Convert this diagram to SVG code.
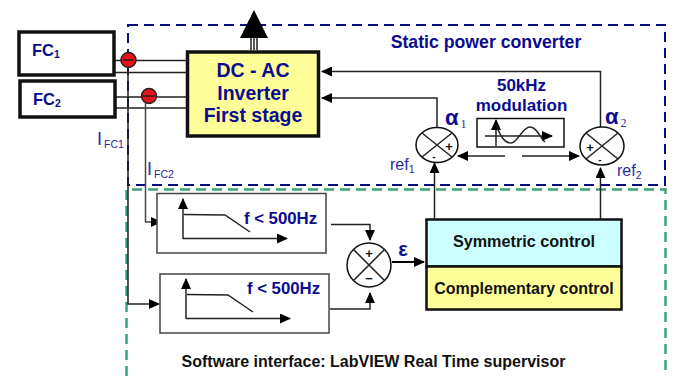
<svg xmlns="http://www.w3.org/2000/svg" width="674" height="376" viewBox="0 0 674 376">
<style>
text{font-family:"Liberation Sans",Arial,sans-serif;font-weight:bold;fill:#0b0b8f}
.k{fill:#111}
.n{font-weight:normal;fill:#2a2aa0}
.l{fill:none;stroke:#222;stroke-width:1.5}
.t{fill:none;stroke:#444;stroke-width:1.5}
.b{fill:#fff;stroke:#444;stroke-width:1.5}
.h{fill:#fff;stroke:#111;stroke-width:3.5}
.s{fill:#fff;stroke:#111;stroke-width:1.5}
.r{fill:#e8101a;stroke:#222;stroke-width:1.5}
.a{fill:#000}
</style>
<defs>
<marker id="ah" markerWidth="12" markerHeight="10" refX="10" refY="5" orient="auto" markerUnits="userSpaceOnUse"><path d="M0 0L11 5L0 10Z" fill="#000"/></marker>
</defs>
<g id="boundaries" fill="none">
<rect x="128" y="25" width="537" height="160" stroke="#0b0b80" stroke-width="2" stroke-dasharray="10 6"/>
<path d="M126.500 376V189.500H665.500V376" stroke="#3fa077" stroke-width="2.500" stroke-dasharray="10 6"/>
</g>
<g id="connectors">
<path class="l" d="M112 60.500H186M115 72.500H186M115 97H186M115 108H186"/>
<path class="l" d="M128 60V304H159" marker-end="url(#ah)"/>
<path class="t" d="M145.500 96V222H161" marker-end="url(#ah)"/>
<path class="l" d="M600.500 127V71.500H322" marker-end="url(#ah)"/>
<path class="l" d="M437 128V98H322" marker-end="url(#ah)"/>
<path class="l" d="M505 156H458" marker-end="url(#ah)"/>
<path class="l" d="M522 156H579" marker-end="url(#ah)"/>
<path class="l" d="M434.500 220V163" marker-end="url(#ah)"/>
<path class="l" d="M600.500 220V168" marker-end="url(#ah)"/>
<path class="l" d="M331 224.500H370V240" marker-end="url(#ah)"/>
<path class="l" d="M330 309H370V293" marker-end="url(#ah)"/>
<path d="M392 262H424" stroke="#000" stroke-width="2" marker-end="url(#ah)"/>
<path class="l" d="M251 50V38M254 50V38M257 50V38"/>
<path class="a" d="M254 10L240 38H268Z"/>
</g>
<g id="fc1"><rect class="h" x="19" y="32" width="95" height="43"/><text x="32" y="56" font-size="16.500">FC<tspan font-size="10.500" dy="2">1</tspan></text></g>
<g id="fc2"><rect class="h" x="20" y="81" width="95" height="36"/><text x="33" y="105" font-size="16.500">FC<tspan font-size="10.500" dy="2">2</tspan></text></g>
<g id="sensor1"><circle class="r" cx="128.500" cy="60" r="7.500"/><path class="l" d="M123 60H134"/></g>
<g id="sensor2"><circle class="r" cx="149" cy="96" r="7.500"/><path class="l" d="M143 96H155"/></g>
<g id="inverter"><rect x="187.500" y="52" width="131" height="84" fill="#ffff99" stroke="#111" stroke-width="3.500"/>
<text x="253" y="77" font-size="19.500" text-anchor="middle">DC - AC</text>
<text x="253" y="100" font-size="19.500" text-anchor="middle">Inverter</text>
<text x="253" y="122" font-size="19.500" text-anchor="middle">First stage</text></g>
<text x="486" y="48" font-size="17.700" text-anchor="middle">Static power converter</text>
<g id="summer1"><ellipse class="s" cx="437" cy="145" rx="21" ry="17.500"/><path class="l" d="M422 133L452 157M452 133L422 157"/>
<text class="k" x="449" y="151" font-size="13" text-anchor="middle">+</text><text class="k" x="434" y="160" font-size="10" text-anchor="middle">-</text></g>
<g id="summer2"><ellipse class="s" cx="602" cy="146" rx="22" ry="19"/><path class="l" d="M586 133L618 159M618 133L586 159"/>
<text class="k" x="590" y="152" font-size="13" text-anchor="middle">+</text><text class="k" x="600" y="163" font-size="10" text-anchor="middle">-</text></g>
<text x="445" y="125" font-size="22">α<tspan class="n" font-family="Liberation Serif" font-size="12" dx="2" dy="3">1</tspan></text>
<text x="605" y="124" font-size="22">α<tspan class="n" font-family="Liberation Serif" font-size="12" dx="2" dy="3">2</tspan></text>
<text class="n" x="390" y="170" font-size="16">ref<tspan font-size="10.500" dy="3">1</tspan></text>
<text class="n" x="617" y="176" font-size="16">ref<tspan font-size="10.500" dy="3">2</tspan></text>
<g id="modulation"><text x="521.500" y="91" font-size="17" text-anchor="middle">50kHz</text><text x="521.500" y="111" font-size="17" text-anchor="middle">modulation</text>
<rect class="s" x="477" y="118.500" width="87" height="28.500"/>
<path class="l" d="M496 146V120" marker-end="url(#ah)"/><path class="l" d="M485 136H552" marker-end="url(#ah)"/>
<path class="l" d="M496 125C502 140 506 143 511 143C518 143 522 127 530 127C537 127 540 138 545 142"/></g>
<g id="filter1"><rect class="b" x="157" y="193.500" width="169" height="59.500"/>
<path class="l" d="M183 239V199" marker-end="url(#ah)"/><path class="l" d="M183 238.500H287" marker-end="url(#ah)"/><path class="l" d="M184 214.500L225 215L250 232"/>
<text x="280.500" y="224" font-size="16.800" text-anchor="middle">f &lt; 500Hz</text></g>
<g id="filter2"><rect class="b" x="160" y="274" width="169" height="59"/>
<path class="l" d="M186 319V279" marker-end="url(#ah)"/><path class="l" d="M186 318.500H290" marker-end="url(#ah)"/><path class="l" d="M187 294.500L228 295L253 312"/>
<text x="283.500" y="294" font-size="16.800" text-anchor="middle">f &lt; 500Hz</text></g>
<g id="summer3"><circle class="s" cx="369" cy="265" r="22"/><path class="l" d="M353 249L385 281M385 249L353 281"/>
<text class="k" x="369" y="258" font-size="13" text-anchor="middle">+</text><text class="k" x="369" y="283" font-size="13" text-anchor="middle">−</text></g>
<text x="403" y="256" font-size="20" text-anchor="middle">ε</text>
<g id="control"><rect x="426.500" y="219.500" width="195" height="47" fill="#ccffff" stroke="#111" stroke-width="2.500"/>
<rect x="426.500" y="266.500" width="195" height="43" fill="#ffff99" stroke="#111" stroke-width="2.500"/>
<text class="k" x="524" y="247" font-size="16.200" text-anchor="middle">Symmetric control</text>
<text class="k" x="524" y="294" font-size="16" text-anchor="middle">Complementary control</text></g>
<text class="k" x="373.500" y="367" font-size="16" text-anchor="middle">Software interface: LabVIEW Real Time supervisor</text>
<text class="n" x="97" y="145" font-size="18">I<tspan font-size="10.500" dx="2" dy="3">FC1</tspan></text>
<text class="n" x="147" y="175" font-size="18">I<tspan font-size="10.500" dx="2" dy="3">FC2</tspan></text>
</svg>
